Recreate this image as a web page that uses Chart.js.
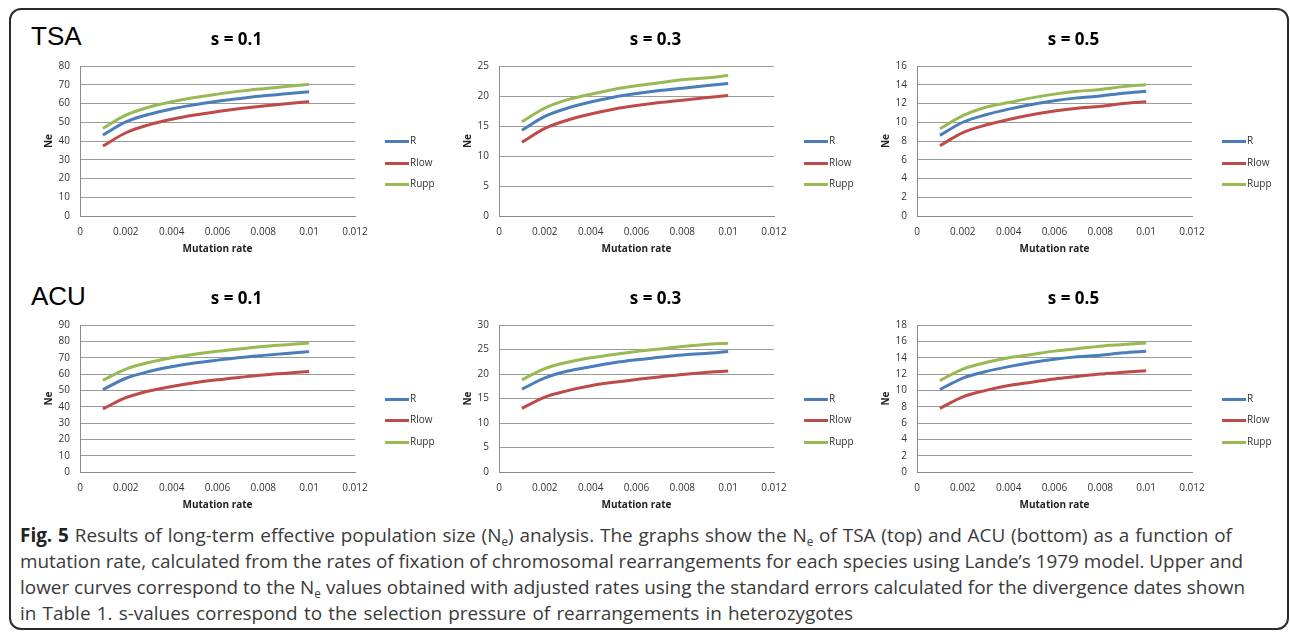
<!DOCTYPE html>
<html><head><meta charset="utf-8">
<script src="https://cdn.jsdelivr.net/npm/chart.js@4.4.1/dist/chart.umd.min.js"></script>
<style>
html,body{margin:0;padding:0;background:#fff;}
body{width:1290px;height:634px;position:relative;overflow:hidden;font-family:'Open Sans',sans-serif;}
#frame{position:absolute;left:9px;top:8px;width:1280px;height:622px;box-sizing:border-box;border:2px solid #2b2b2b;border-radius:12px;}
.row-label{position:absolute;font-family:'Liberation Sans',Arial,sans-serif;font-size:26px;line-height:26px;color:#000;}
canvas{position:absolute;}
#caption{position:absolute;left:20px;top:522px;font-size:18px;line-height:26px;color:#3a3a3a;white-space:nowrap;}
#caption .ln{display:block;}
#caption .ln span.t{display:inline-block;}
#caption b{color:#222;}
#caption sub{font-size:0.62em;vertical-align:-0.3em;line-height:0;}
</style></head>
<body>
<div id="frame"></div>
<div class="row-label" style="left:31px;top:22.6px">TSA</div>
<div class="row-label" style="left:31px;top:283px">ACU</div>
<canvas id="c0"></canvas><canvas id="c1"></canvas><canvas id="c2"></canvas>
<canvas id="c3"></canvas><canvas id="c4"></canvas><canvas id="c5"></canvas>
<div id="caption">
<span class="ln"><span class="t" id="l1"><b>Fig. 5</b> Results of long-term effective population size (N<sub>e</sub>) analysis. The graphs show the N<sub>e</sub> of TSA (top) and ACU (bottom) as a function of</span></span>
<span class="ln"><span class="t" id="l2">mutation rate, calculated from the rates of fixation of chromosomal rearrangements for each species using Lande’s 1979 model. Upper and</span></span>
<span class="ln"><span class="t" id="l3">lower curves correspond to the N<sub>e</sub> values obtained with adjusted rates using the standard errors calculated for the divergence dates shown</span></span>
<span class="ln"><span class="t" id="l4">in Table 1. s-values correspond to the selection pressure of rearrangements in heterozygotes</span></span>
</div>
<script>
// ---- data ----
const mutationRates = [0.001,0.002,0.003,0.004,0.005,0.006,0.007,0.008,0.009,0.010];
const seriesNames = ['R','Rlow','Rupp'];
const xTickValues = [0,0.002,0.004,0.006,0.008,0.01,0.012];
const xTickLabels = ['0','0.002','0.004','0.006','0.008','0.01','0.012'];
const panelTitles = ['s = 0.1','s = 0.3','s = 0.5'];

// TSA
const tsaS01_R    = [43.2,50.2,54.2,57.1,59.3,61.2,62.7,64.1,65.2,66.3];
const tsaS01_Rlow = [37.3,44.4,48.6,51.6,53.9,55.7,57.3,58.7,59.9,61.0];
const tsaS01_Rupp = [46.8,53.8,58.0,60.9,63.2,65.0,66.6,67.9,69.1,70.2];
const tsaS03_R    = [14.3,16.6,18.0,19.0,19.8,20.4,20.9,21.3,21.7,22.1];
const tsaS03_Rlow = [12.3,14.6,16.0,17.0,17.8,18.4,18.9,19.3,19.7,20.1];
const tsaS03_Rupp = [15.7,18.0,19.4,20.3,21.1,21.7,22.2,22.7,23.0,23.4];
const tsaS05_R    = [8.6,10.0,10.8,11.4,11.9,12.3,12.6,12.8,13.1,13.3];
const tsaS05_Rlow = [7.5,8.9,9.7,10.3,10.8,11.2,11.5,11.7,12.0,12.2];
const tsaS05_Rupp = [9.3,10.7,11.6,12.1,12.6,13.0,13.3,13.5,13.8,14.0];
// ACU
const acuS01_R    = [50.4,57.4,61.5,64.4,66.7,68.5,70.1,71.4,72.6,73.7];
const acuS01_Rlow = [38.6,45.5,49.6,52.4,54.7,56.5,58.0,59.4,60.5,61.6];
const acuS01_Rupp = [56.1,63.0,67.0,69.9,72.1,73.9,75.4,76.8,77.9,79.0];
const acuS03_R    = [16.9,19.2,20.6,21.5,22.3,22.9,23.4,23.9,24.2,24.6];
const acuS03_Rlow = [13.0,15.3,16.6,17.6,18.3,18.9,19.4,19.9,20.3,20.6];
const acuS03_Rupp = [18.8,21.1,22.4,23.3,24.0,24.6,25.1,25.6,26.0,26.3];
const acuS05_R    = [10.1,11.5,12.3,12.9,13.4,13.8,14.1,14.3,14.6,14.8];
const acuS05_Rlow = [7.8,9.2,10.0,10.6,11.0,11.4,11.7,12.0,12.2,12.4];
const acuS05_Rupp = [11.2,12.6,13.4,14.0,14.4,14.8,15.1,15.4,15.6,15.8];

// y-axis ranges (max, step)
const yMaxes = [80,25,16,90,30,18];
const ySteps = [10,5,2,10,5,2];

// ---- styling ----
const seriesColors = ['#4A7EBB','#BE4B48','#98B954'];
const gridColor = '#9a9a9a';
const axisColor = '#8a8a8a';
const tickColor = '#333333';
const FONT = "'Open Sans', sans-serif";

const panelDecor = {
  id: 'panelDecor',
  afterDraw(chart, args, opts) {
    const ctx = chart.ctx, a = chart.chartArea;
    ctx.save();
    ctx.fillStyle = '#000';
    ctx.font = "bold 17px " + FONT;
    ctx.textAlign = 'center';
    ctx.textBaseline = 'middle';
    ctx.fillText(opts.text, (a.left + a.right) / 2 + 19, a.top - 26);
    const mid = (a.top + a.bottom) / 2;
    ctx.font = "10px " + FONT;
    ctx.textAlign = 'left';
    chart.data.datasets.forEach((ds, i) => {
      const y = Math.round(mid + i * 21.5) + 0.5;
      ctx.strokeStyle = ds.borderColor;
      ctx.lineWidth = 3;
      ctx.beginPath();
      ctx.moveTo(a.right + 30, y);
      ctx.lineTo(a.right + 54, y);
      ctx.stroke();
      ctx.fillStyle = tickColor;
      ctx.fillText(ds.label, a.right + 55, y);
    });
    ctx.restore();
  }
};

const panels = [
  {id:'c0', left:10,  top:20,  h:250, pt:46, pb:14, series:[tsaS01_R,tsaS01_Rlow,tsaS01_Rupp], title:panelTitles[0], k:0},
  {id:'c1', left:429, top:20,  h:250, pt:46, pb:14, series:[tsaS03_R,tsaS03_Rlow,tsaS03_Rupp], title:panelTitles[1], k:1},
  {id:'c2', left:847, top:20,  h:250, pt:46, pb:14, series:[tsaS05_R,tsaS05_Rlow,tsaS05_Rupp], title:panelTitles[2], k:2},
  {id:'c3', left:10,  top:275, h:245, pt:50, pb:8,  series:[acuS01_R,acuS01_Rlow,acuS01_Rupp], title:panelTitles[0], k:3},
  {id:'c4', left:429, top:275, h:245, pt:50, pb:8,  series:[acuS03_R,acuS03_Rlow,acuS03_Rupp], title:panelTitles[1], k:4},
  {id:'c5', left:847, top:275, h:245, pt:50, pb:8,  series:[acuS05_R,acuS05_Rlow,acuS05_Rupp], title:panelTitles[2], k:5}
];

function toXY(vals) { return vals.map((v, i) => ({x: mutationRates[i], y: v})); }

panels.forEach(p => {
  const cv = document.getElementById(p.id);
  cv.width = 430; cv.height = p.h;
  cv.style.left = p.left + 'px'; cv.style.top = p.top + 'px';
  new Chart(cv, {
    type: 'line',
    data: {
      datasets: p.series.map((vals, i) => ({
        label: seriesNames[i],
        data: toXY(vals),
        borderColor: seriesColors[i],
        backgroundColor: seriesColors[i],
        borderWidth: 3,
        pointRadius: 0,
        fill: false,
        cubicInterpolationMode: 'monotone'
      }))
    },
    options: {
      responsive: false,
      animation: false,
      devicePixelRatio: 1,
      layout: {padding: {left: 30, right: 85, top: p.pt, bottom: p.pb}},
      plugins: {
        legend: {display: false},
        title: {display: false},
        tooltip: {enabled: false},
        panelDecor: {text: p.title}
      },
      scales: {
        x: {
          type: 'linear', min: 0, max: 0.012,
          afterBuildTicks: s => { s.ticks = xTickValues.map(v => ({value: v})); },
          afterFit: s => { s.height = 40; },
          ticks: {padding: 10, color: tickColor, font: {family: FONT, size: 10},
                  maxRotation: 0, autoSkip: false,
                  callback: (v, i) => xTickLabels[i]},
          grid: {display: false, drawTicks: false},
          border: {display: true, color: axisColor, width: 1},
          title: {display: true, text: 'Mutation rate', color: '#222',
                  font: {family: FONT, size: 10, weight: 'bold'}, padding: {top: 0, bottom: 1}}
        },
        y: {
          min: 0, max: yMaxes[p.k],
          afterFit: s => { s.width = 40; },
          ticks: {stepSize: ySteps[p.k], padding: 10, color: tickColor, font: {family: FONT, size: 10}},
          grid: {color: gridColor, lineWidth: 1, drawTicks: false},
          border: {display: true, color: axisColor, width: 1},
          title: {display: true, text: 'Ne', color: '#222',
                  font: {family: FONT, size: 10, weight: 'bold'}, padding: {top: 3, bottom: 0}}
        }
      }
    },
    plugins: [panelDecor]
  });
});

// caption fit: scale font so line 3 spans the measured width, then fine-tune each line with word spacing
(function(){
  const cap = document.getElementById('caption');
  const l3 = document.getElementById('l3');
  const w = l3.getBoundingClientRect().width;
  cap.style.fontSize = (18 * 1225 / w).toFixed(2) + 'px';
  const targets = {l1: 1212, l2: 1223, l3: 1225, l4: 833};
  Object.keys(targets).forEach(id => {
    const el = document.getElementById(id);
    const cw = el.getBoundingClientRect().width;
    const spaces = (el.textContent.match(/ /g) || []).length;
    if (spaces) el.style.wordSpacing = ((targets[id] - cw) / spaces).toFixed(2) + 'px';
  });
})();
</script>
</body></html>
